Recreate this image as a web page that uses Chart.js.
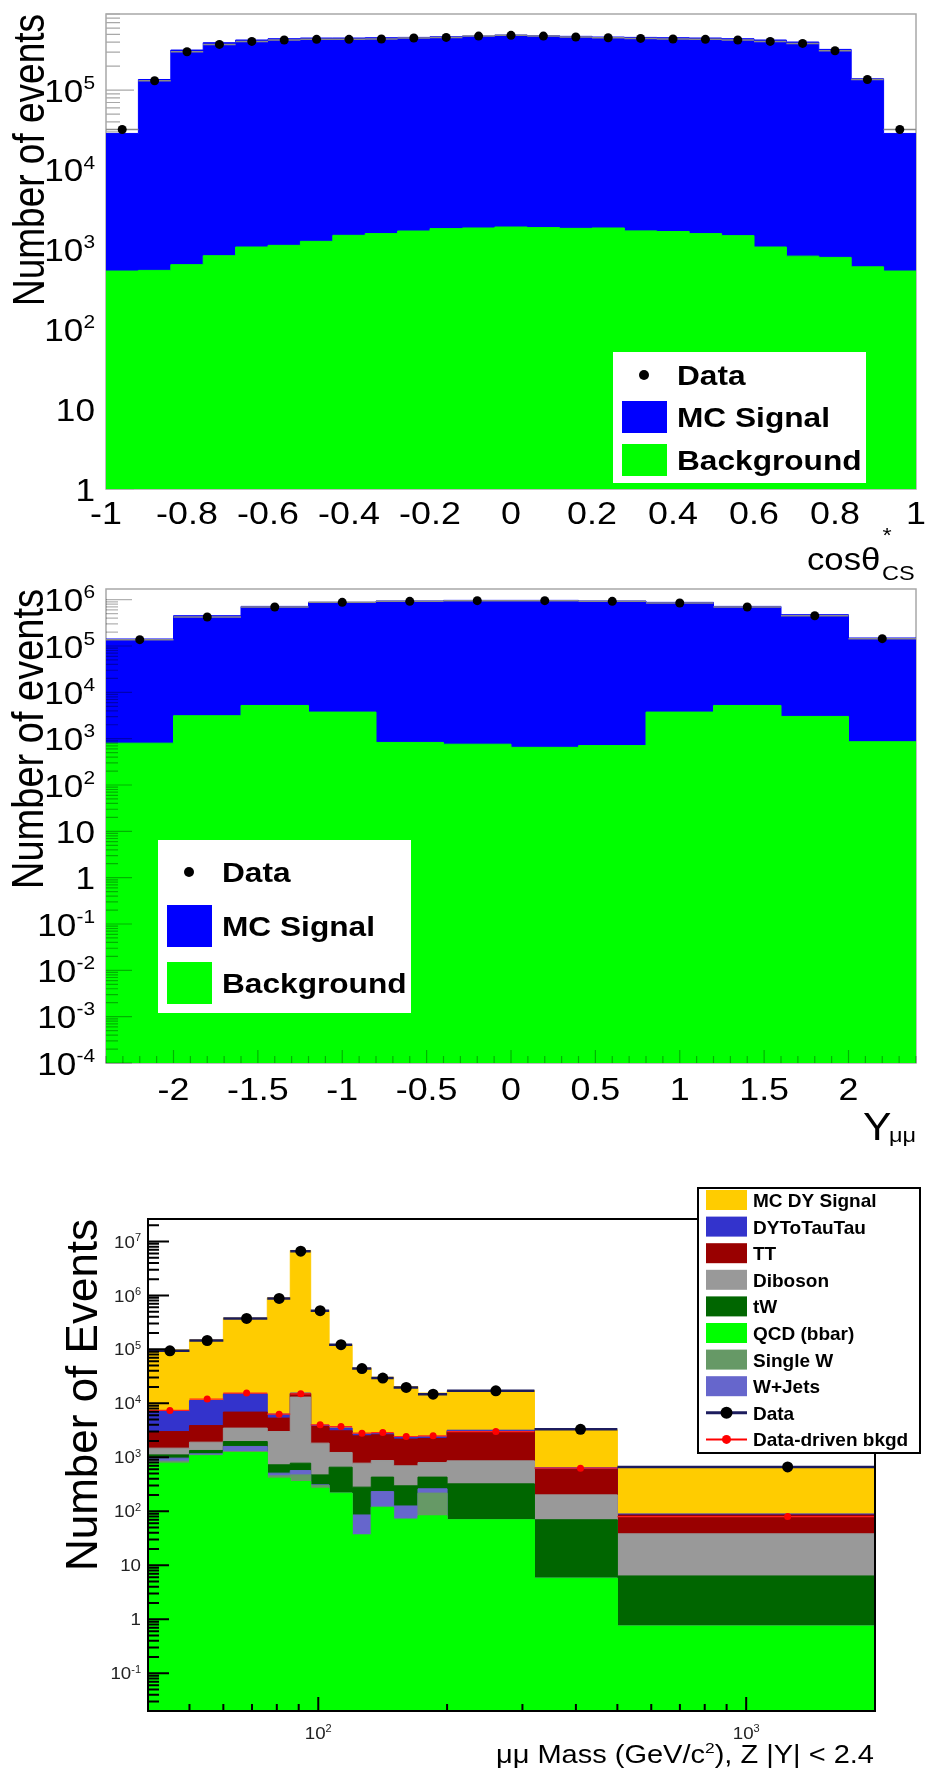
<!DOCTYPE html>
<html>
<head>
<meta charset="utf-8">
<title>Drell-Yan dimuon distributions</title>
<script src="https://cdn.jsdelivr.net/npm/chart.js@4.4.1/dist/chart.umd.min.js"></script>
<style>
  html, body { margin: 0; padding: 0; background: #fff; }
  #page { position: relative; width: 927px; height: 1775px; overflow: hidden; }
  #page canvas { position: absolute; left: 0; }
</style>
</head>
<body>
<div id="page">
  <canvas id="cosChart" width="927" height="600" style="top:0px"></canvas>
  <canvas id="rapChart" width="927" height="590" style="top:575px"></canvas>
  <canvas id="massChart" width="927" height="610" style="top:1165px"></canvas>
</div>
<script>
const FONT = '"Liberation Sans", Arial, Helvetica, sans-serif';

// ---- cos(theta*) in the Collins-Soper frame, 25 bins ----
const cosEdges = [-1, -0.92, -0.84, -0.76, -0.68, -0.6, -0.52, -0.44, -0.36, -0.28, -0.2, -0.12, -0.04,
                  0.04, 0.12, 0.2, 0.28, 0.36, 0.44, 0.52, 0.6, 0.68, 0.76, 0.84, 0.92, 1];
const cosData = [32100, 131000, 303000, 374000, 408000, 425000, 433000, 433000, 437000, 450000, 458000, 476000, 486000,
                 476000, 463000, 454000, 445000, 437000, 433000, 425000, 408000, 385000, 312000, 136000, 32100];
const cosSignal = [28100, 135400, 317400, 392200, 423900, 439900, 448700, 448500, 452400, 456300, 465200, 474100, 488100,
                   479100, 470200, 461100, 456300, 452300, 448400, 439500, 423900, 400200, 323200, 138400, 28100];
const cosBkg = [540, 550, 649, 841, 1080, 1133, 1272, 1513, 1590, 1714, 1836, 1870, 1923,
                1890, 1850, 1870, 1720, 1690, 1590, 1500, 1080, 830, 800, 610, 540];
const cosTicks = [-1, -0.8, -0.6, -0.4, -0.2, 0, 0.2, 0.4, 0.6, 0.8, 1];
const cosTickLabels = ['-1', '-0.8', '-0.6', '-0.4', '-0.2', '0', '0.2', '0.4', '0.6', '0.8', '1'];
const cosDecades = [0, 1, 2, 3, 4, 5];

// ---- dimuon rapidity, 12 bins ----
const rapEdges = [-2.4, -2, -1.6, -1.2, -0.8, -0.4, 0, 0.4, 0.8, 1.2, 1.6, 2, 2.4];
const rapData = [137000, 423000, 695000, 875000, 920000, 951000, 951000, 920000, 848000, 695000, 451000, 144000];
const rapSignal = [140900, 447900, 710800, 871300, 935200, 965200, 965400, 935300, 871300, 710800, 471000, 148100];
const rapBkg = [800, 3130, 5210, 3750, 830, 760, 650, 710, 3750, 5210, 3020, 860];
const rapTicks = [-2, -1.5, -1, -0.5, 0, 0.5, 1, 1.5, 2];
const rapTickLabels = ['-2', '-1.5', '-1', '-0.5', '0', '0.5', '1', '1.5', '2'];
const rapDecades = [-4, -3, -2, -1, 0, 1, 2, 3, 4, 5, 6];

// ---- dimuon mass, 14 variable-width bins ----
const massEdges = [40, 50, 60, 76, 86, 96, 106, 120, 133, 150, 171, 200, 320, 500, 2000];
const massData = [94000, 146000, 374000, 880000, 6600000, 520000, 122000, 44000, 29400, 19700, 14800, 17100, 3300, 665];
const massBkgDriven = [7400, 12000, 15500, 6300, 15000, 4000, 3720, 2800, 2880, 2430, 2500, 3000, 630, 80];
const massQCD = [780, 1070, 1230, 411, 356, 268, 217, 36.6, 119, 71.6, 82.4, 69.6, 5.77, 0.75];
const massSingleW = [70, 30, 50, 43, 117, 32, 0, 0, 0, 0, 135, 0, 0, 0];
const massWJets = [116, 60, 310, 55, 96, 9, 0, 49, 113, 54, 44, 0, 0, 0];
const massTW = [144, 180, 370, 217, 211, 164, 440, 195, 198, 171, 169, 253, 64, 5.6];
const massDiboson = [370, 570, 1520, 2280, 12280, 1360, 573, 499, 443, 400, 370, 538, 132, 32];
const massTT = [1520, 1970, 3410, 2320, 1940, 1890, 1870, 1720, 1740, 1480, 1440, 2140, 402, 47];
const massDYTauTau = [4060, 7420, 8110, 980, 500, 230, 400, 200, 170, 170, 160, 180, 36, 4];
const massSignal = [90940, 138700, 365000, 893700, 6784500, 522000, 118500, 42300, 27700, 18150, 13100, 14120, 2600, 571];
const massDecades = [-1, 0, 1, 2, 3, 4, 5, 6, 7];
const massTicks = [100, 1000];
const massTickPowers = [2, 3];

// stack order, bottom layer first
const massLayers = [
  { label: 'QCD (bbar)', color: '#00ff00', values: massQCD },
  { label: 'Single W', color: '#669966', values: massSingleW },
  { label: 'W+Jets', color: '#6666cc', values: massWJets },
  { label: 'tW', color: '#006600', values: massTW },
  { label: 'Diboson', color: '#999999', values: massDiboson },
  { label: 'TT', color: '#990000', values: massTT },
  { label: 'DYToTauTau', color: '#3333cc', values: massDYTauTau },
  { label: 'MC DY Signal', color: '#ffcc00', values: massSignal }
];
const massLegendOrder = ['MC DY Signal', 'DYToTauTau', 'TT', 'Diboson', 'tW', 'QCD (bbar)', 'Single W', 'W+Jets'];

// ---------- dataset builders ----------

// outline of a histogram: one point per lower edge, plus the closing edge
function histPoints(edges, values) {
  const pts = values.map((v, i) => ({ x: edges[i], y: v }));
  pts.push({ x: edges[edges.length - 1], y: values[values.length - 1] });
  return pts;
}

function centres(edges) {
  return edges.slice(1).map((e, i) => (e + edges[i]) / 2);
}

// each layer is drawn as its running total, filled down to the axis
function stacked(edges, layers, firstOrder) {
  let run = edges.slice(1).map(() => 0);
  return layers.map((l, i) => {
    run = run.map((r, k) => r + l.values[k]);
    return {
      data: histPoints(edges, run),
      stepped: true,
      fill: 'start',
      backgroundColor: l.color,
      borderColor: l.color,
      borderWidth: 1,
      pointRadius: 0,
      order: firstOrder + i
    };
  });
}

function markers(edges, values, color, r, order) {
  return {
    data: centres(edges).map((x, i) => ({ x, y: values[i] })),
    showLine: false,
    pointRadius: r,
    pointBackgroundColor: color,
    pointBorderColor: color,
    pointBorderWidth: 0,
    order
  };
}

// horizontal bar across every bin, broken between bins
function binLines(edges, values, color, w, order) {
  const pts = [];
  values.forEach((v, i) => {
    pts.push({ x: edges[i], y: v }, { x: edges[i + 1], y: v }, { x: edges[i + 1], y: null });
  });
  return { data: pts, borderColor: color, borderWidth: w, pointRadius: 0, fill: false, spanGaps: false, order };
}

function baseOptions(pad, xScale, yScale) {
  return {
    responsive: false,
    animation: false,
    events: [],
    layout: { padding: pad },
    plugins: { legend: { display: false }, tooltip: { enabled: false } },
    scales: {
      x: Object.assign({ display: false }, xScale),
      y: Object.assign({ display: false }, yScale)
    }
  };
}

// ---------- canvas drawing helpers ----------

function txt(ctx, s, x, y, o) {
  ctx.save();
  ctx.translate(x, y);
  ctx.scale(o.sx || 1, 1);
  ctx.font = (o.bold ? 'bold ' : '') + o.size + 'px ' + FONT;
  ctx.textAlign = o.align || 'left';
  ctx.textBaseline = 'alphabetic';
  ctx.fillStyle = o.color || '#000';
  ctx.fillText(s, 0, 0);
  ctx.restore();
}

function textW(ctx, s, size, sx, bold) {
  ctx.save();
  ctx.font = (bold ? 'bold ' : '') + size + 'px ' + FONT;
  const w = ctx.measureText(s).width * (sx || 1);
  ctx.restore();
  return w;
}

// rotated axis title, read bottom to top, baseline at x
function vtxt(ctx, s, x, y, size, sx) {
  ctx.save();
  ctx.translate(x, y);
  ctx.scale(sx, 1);
  ctx.rotate(-Math.PI / 2);
  ctx.font = size + 'px ' + FONT;
  ctx.textAlign = 'center';
  ctx.textBaseline = 'alphabetic';
  ctx.fillStyle = '#000';
  ctx.fillText(s, 0, 0);
  ctx.restore();
}

// "10^e" label with its digits centred on y
function powLabel(ctx, e, x, y, o) {
  const sx = o.sx || 1;
  const sup = Math.round(o.size * 0.6);
  const main = e === 0 ? '1' : '10';
  const ex = (e === 0 || e === 1) ? '' : String(e);
  const wMain = textW(ctx, main, o.size, sx);
  const wEx = ex ? textW(ctx, ex, sup, sx) : 0;
  const left = o.align === 'center' ? x - (wMain + wEx) / 2 : x - wMain - wEx;
  txt(ctx, main, left, y + o.size * 0.36, { size: o.size, sx, color: o.color });
  if (ex) txt(ctx, ex, left + wMain, y - o.size * 0.04, { size: sup, sx, color: o.color });
}

function frame(ctx, a, color, w) {
  ctx.save();
  ctx.strokeStyle = color;
  ctx.lineWidth = w;
  ctx.strokeRect(a.left, a.top, a.right - a.left, a.bottom - a.top);
  ctx.restore();
}

// inward ticks on a log y axis: 1..9 x 10^d
function logTicksY(chart, d0, d1, major, minor, color, w) {
  const { ctx, chartArea: a, scales: { y } } = chart;
  ctx.save();
  ctx.strokeStyle = color;
  ctx.lineWidth = w;
  ctx.beginPath();
  for (let d = d0; d <= d1; d++) {
    for (let k = 1; k <= 9; k++) {
      const py = y.getPixelForValue(k * Math.pow(10, d));
      if (py < a.top - 0.5 || py > a.bottom + 0.5) continue;
      ctx.moveTo(a.left, py);
      ctx.lineTo(a.left + (k === 1 ? major : minor), py);
    }
  }
  ctx.stroke();
  ctx.restore();
}

function logTicksX(chart, d0, d1, major, minor, color, w) {
  const { ctx, chartArea: a, scales: { x } } = chart;
  ctx.save();
  ctx.strokeStyle = color;
  ctx.lineWidth = w;
  ctx.beginPath();
  for (let d = d0; d <= d1; d++) {
    for (let k = 1; k <= 9; k++) {
      const px = x.getPixelForValue(k * Math.pow(10, d));
      if (px < a.left + 1 || px > a.right + 0.5) continue;
      ctx.moveTo(px, a.bottom);
      ctx.lineTo(px, a.bottom - (k === 1 ? major : minor));
    }
  }
  ctx.stroke();
  ctx.restore();
}

// linear x ticks every `step`, long ones every `every` steps
function linTicksX(chart, lo, hi, step, every, major, minor, color, w) {
  const { ctx, chartArea: a, scales: { x } } = chart;
  ctx.save();
  ctx.strokeStyle = color;
  ctx.lineWidth = w;
  ctx.beginPath();
  const n0 = Math.round(lo / step), n1 = Math.round(hi / step);
  for (let n = n0; n <= n1; n++) {
    const px = x.getPixelForValue(n * step);
    ctx.moveTo(px, a.bottom);
    ctx.lineTo(px, a.bottom - (n % every === 0 ? major : minor));
  }
  ctx.stroke();
  ctx.restore();
}

// Data / MC Signal / Background box used by the two upper panels
function sigBkgLegend(ctx, L) {
  ctx.save();
  ctx.fillStyle = '#fff';
  ctx.fillRect(L.box[0], L.box[1], L.box[2] - L.box[0], L.box[3] - L.box[1]);
  ctx.fillStyle = '#000';
  ctx.beginPath();
  ctx.arc(L.dotX, L.rows[0], 5, 0, 2 * Math.PI);
  ctx.fill();
  ctx.fillStyle = '#0000ff';
  ctx.fillRect(L.swX, L.rows[1] - L.swH / 2, 45, L.swH);
  ctx.fillStyle = '#00ff00';
  ctx.fillRect(L.swX, L.rows[2] - L.swH / 2, 45, L.swH);
  ctx.restore();
  ['Data', 'MC Signal', 'Background'].forEach((s, i) => {
    txt(ctx, s, L.textX, L.rows[i] + 10, { size: 28, bold: true, sx: 1.13 });
  });
}

// ---------- top panel: cos theta* ----------
new Chart(document.getElementById('cosChart'), {
  type: 'line',
  data: {
    datasets: [
      markers(cosEdges, cosData, '#000', 4.5, 0),
      binLines(cosEdges, cosData, '#8a8a8a', 1.5, 1),
      ...stacked(cosEdges, [{ color: '#00ff00', values: cosBkg }, { color: '#0000ff', values: cosSignal }], 2)
    ]
  },
  options: baseOptions({ left: 106, right: 11, top: 14, bottom: 111 },
    { type: 'linear', min: -1, max: 1 },
    { type: 'logarithmic', min: 1, max: 9e5 }),
  plugins: [{
    id: 'cosDecor',
    beforeDatasetsDraw(chart) {
      frame(chart.ctx, chart.chartArea, '#a8a8a8', 1.5);
      logTicksY(chart, 0, 5, 28, 14, '#a8a8a8', 1.2);
    },
    afterDraw(chart) {
      const { ctx, scales: { x, y } } = chart;
      cosDecades.forEach(e => powLabel(ctx, e, 95, y.getPixelForValue(Math.pow(10, e)), { size: 32, sx: 1.1 }));
      cosTicks.forEach((t, i) => txt(ctx, cosTickLabels[i], x.getPixelForValue(t), 512 + 11.5,
        { size: 32, sx: 1.12, align: 'center' }));
      vtxt(ctx, 'Number of events', 44, 160, 37, 1.2);
      txt(ctx, 'cos\u03b8', 807, 570, { size: 31, sx: 1.12 });
      txt(ctx, '*', 887, 542, { size: 21, sx: 1.12, align: 'center' });
      txt(ctx, 'CS', 882, 580, { size: 21, sx: 1.12 });
      sigBkgLegend(ctx, { box: [613, 352, 866, 483], rows: [375, 417, 460], dotX: 644, swX: 622, swH: 32, textX: 677 });
    }
  }]
});

// ---------- middle panel: rapidity ----------
new Chart(document.getElementById('rapChart'), {
  type: 'line',
  data: {
    datasets: [
      markers(rapEdges, rapData, '#000', 4.5, 0),
      binLines(rapEdges, rapData, '#8a8a8a', 1.5, 1),
      ...stacked(rapEdges, [{ color: '#00ff00', values: rapBkg }, { color: '#0000ff', values: rapSignal }], 2)
    ]
  },
  options: baseOptions({ left: 106, right: 11, top: 14, bottom: 102 },
    { type: 'linear', min: -2.4, max: 2.4 },
    { type: 'logarithmic', min: 1e-4, max: 1.7e6 }),
  plugins: [{
    id: 'rapDecor',
    beforeDatasetsDraw(chart) {
      frame(chart.ctx, chart.chartArea, '#a8a8a8', 1.5);
    },
    afterDatasetsDraw(chart) {
      logTicksY(chart, -4, 6, 26, 12, 'rgba(0,0,0,0.3)', 1.2);
      linTicksX(chart, -2.4, 2.4, 0.1, 5, 13, 7, 'rgba(0,0,0,0.3)', 1.2);
    },
    afterDraw(chart) {
      const { ctx, scales: { x, y } } = chart;
      rapDecades.forEach(e => powLabel(ctx, e, 95, y.getPixelForValue(Math.pow(10, e)), { size: 32, sx: 1.1 }));
      rapTicks.forEach((t, i) => txt(ctx, rapTickLabels[i], x.getPixelForValue(t), 513 + 11.5,
        { size: 32, sx: 1.12, align: 'center' }));
      vtxt(ctx, 'Number of events', 42.5, 164, 38, 1.18);
      txt(ctx, 'Y', 863, 565, { size: 38, sx: 1.12 });
      txt(ctx, '\u03bc\u03bc', 889, 567, { size: 21, sx: 1.12 });
      sigBkgLegend(ctx, { box: [158, 265, 411, 438], rows: [297, 351, 408], dotX: 189, swX: 167, swH: 42, textX: 222 });
    }
  }]
});

// ---------- bottom panel: dimuon mass ----------
new Chart(document.getElementById('massChart'), {
  type: 'line',
  data: {
    datasets: [
      markers(massEdges, massData, '#000', 5.5, 0),
      markers(massEdges, massBkgDriven, '#ff0000', 3.5, 1),
      binLines(massEdges, massData, '#1c1c5e', 2.5, 2),
      binLines(massEdges, massBkgDriven, '#ff2020', 1.2, 3),
      ...stacked(massEdges, massLayers, 10)
    ]
  },
  options: baseOptions({ left: 148, right: 52, top: 54, bottom: 64 },
    { type: 'logarithmic', min: 40, max: 2000 },
    { type: 'logarithmic', min: 0.02, max: 2.6e7 }),
  plugins: [{
    id: 'massDecor',
    afterDatasetsDraw(chart) {
      const { ctx, chartArea: a } = chart;
      logTicksY(chart, -2, 7, 21, 11, '#000', 2);
      logTicksX(chart, 1, 3, 14, 7, '#000', 2);
      frame(ctx, a, '#000', 2);

      // legend box, upper right
      const bx = 698, by = 23, bw = 222, bh = 265, rowH = 26.6, first = 35;
      ctx.save();
      ctx.fillStyle = '#fff';
      ctx.fillRect(bx, by, bw, bh);
      ctx.strokeStyle = '#000';
      ctx.lineWidth = 2;
      ctx.strokeRect(bx, by, bw, bh);
      massLegendOrder.forEach((name, i) => {
        const layer = massLayers.find(l => l.label === name);
        const ry = first + i * rowH;
        ctx.fillStyle = layer.color;
        ctx.fillRect(706, ry - 10, 41, 20);
      });
      const dy = first + 8 * rowH, ry2 = first + 9 * rowH;
      ctx.strokeStyle = '#1c1c5e';
      ctx.lineWidth = 3;
      ctx.beginPath(); ctx.moveTo(706, dy); ctx.lineTo(747, dy); ctx.stroke();
      ctx.fillStyle = '#000';
      ctx.beginPath(); ctx.arc(726.5, dy, 6, 0, 2 * Math.PI); ctx.fill();
      ctx.strokeStyle = '#ff0000';
      ctx.lineWidth = 2;
      ctx.beginPath(); ctx.moveTo(706, ry2); ctx.lineTo(747, ry2); ctx.stroke();
      ctx.fillStyle = '#ff0000';
      ctx.beginPath(); ctx.arc(726.5, ry2, 4.5, 0, 2 * Math.PI); ctx.fill();
      ctx.restore();
      massLegendOrder.concat(['Data', 'Data-driven bkgd']).forEach((s, i) => {
        txt(ctx, s, 753, first + i * rowH + 7, { size: 19, bold: true });
      });
    },
    afterDraw(chart) {
      const { ctx, scales: { x, y } } = chart;
      massDecades.forEach(e => powLabel(ctx, e, 141, y.getPixelForValue(Math.pow(10, e)),
        { size: 17, sx: 1.1, color: '#222' }));
      massTicks.forEach((t, i) => powLabel(ctx, massTickPowers[i], x.getPixelForValue(t), 568,
        { size: 17, sx: 1.1, color: '#222', align: 'center' }));
      vtxt(ctx, 'Number of Events', 97, 230, 44, 1.0);

      // x title, right aligned to the frame
      const s1 = '\u03bc\u03bc Mass (GeV/c', s2 = '2', s3 = '), Z |Y| < 2.4';
      const size = 25, sx = 1.16, base = 598;
      const w1 = textW(ctx, s1, size, sx), w2 = textW(ctx, s2, 15, sx), w3 = textW(ctx, s3, size, sx);
      let left = 874 - w1 - w2 - w3;
      txt(ctx, s1, left, base, { size, sx });
      txt(ctx, s2, left + w1, base - 10, { size: 15, sx });
      txt(ctx, s3, left + w1 + w2, base, { size, sx });
    }
  }]
});
</script>
</body>
</html>
